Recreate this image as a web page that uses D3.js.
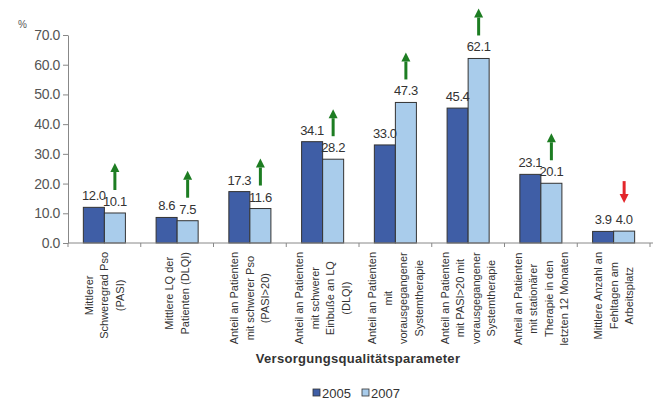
<!DOCTYPE html>
<html><head><meta charset="utf-8">
<script src="https://cdn.jsdelivr.net/npm/d3@7"></script>
<style>
html,body{margin:0;padding:0;background:#fff;}
svg{display:block;font-family:"Liberation Sans",Arial,sans-serif;}
</style></head>
<body>
<svg id="c" width="657" height="401"></svg>
<script>
const categories = [
  ["Mittlerer","Schweregrad Pso","(PASI)"],
  ["Mittlere LQ der","Patienten (DLQI)"],
  ["Anteil an Patienten","mit schwerer Pso","(PASI>20)"],
  ["Anteil an Patienten","mit schwerer","Einbuße an LQ","(DLQI)"],
  ["Anteil an Patienten","mit","vorausgegangener","Systemtherapie"],
  ["Anteil an Patienten","mit PASI>20 mit","vorausgegangener","Systemtherapie"],
  ["Anteil an Patienten","mit stationärer","Therapie in den","letzten 12 Monaten"],
  ["Mittlere Anzahl an","Fehltagen am","Arbeitsplatz"]
];
const seriesNames = ["2005","2007"];
const values2005 = [12.0, 8.6, 17.3, 34.1, 33.0, 45.4, 23.1, 3.9];
const values2007 = [10.1, 7.5, 11.6, 28.2, 47.3, 62.1, 20.1, 4.0];
const trend = ["up","up","up","up","up","up","up","down"];
const yTicks = [0,10,20,30,40,50,60,70];
const axisTitle = "Versorgungsqualitätsparameter";

(function(){
const colors = {"2005":"#3f5ea6","2007":"#a9cceb"};
const svg = d3.select("#c");
const mLeft = 68, mRight = 650, mTop = 35, mBottom = 243;

const ids = categories.map((d,i)=>i);
const x0 = d3.scaleBand().domain(ids).range([mLeft,mRight]).paddingInner(0).paddingOuter(0);
const x1 = d3.scaleBand().domain(seriesNames).range([0,x0.bandwidth()]).paddingInner(0).paddingOuter(0.73);
const y = d3.scaleLinear().domain([0,70]).range([mBottom,mTop]);

// y axis
const yAxis = svg.append("g").attr("transform",`translate(${mLeft},0)`)
  .call(d3.axisLeft(y).tickValues(yTicks).tickFormat(d3.format(".1f")).tickSize(5).tickSizeOuter(0));
yAxis.select(".domain").attr("stroke","#888");
yAxis.selectAll(".tick line").attr("stroke","#888");
yAxis.selectAll(".tick text").attr("font-size",14).attr("fill","#555").attr("x",-8).attr("letter-spacing","-0.4px")
  .attr("font-family","'Liberation Sans',Arial,sans-serif");

svg.append("text").attr("x",18).attr("y",28).attr("font-size",10).attr("fill","#555").text("%");

// bars
const data = ids.map(i=>({i, vals:[{s:"2005",v:values2005[i]},{s:"2007",v:values2007[i]}]}));
const g = svg.selectAll(".grp").data(data).enter().append("g").attr("transform",d=>`translate(${x0(d.i)},0)`);
g.selectAll("rect").data(d=>d.vals).enter().append("rect")
  .attr("x",d=>x1(d.s)).attr("width",x1.bandwidth())
  .attr("y",d=>y(d.v)).attr("height",d=>y(0)-y(d.v))
  .attr("fill",d=>colors[d.s]).attr("stroke","#333").attr("stroke-width",1);
g.selectAll("text.val").data(d=>d.vals).enter().append("text").attr("class","val")
  .attr("x",d=>x1(d.s)+x1.bandwidth()/2).attr("y",d=>y(d.v)-7)
  .attr("text-anchor","middle").attr("font-size",13).attr("letter-spacing","-0.4px").attr("fill","#333")
  .text(d=>d3.format(".1f")(d.v));

// x axis
const xAxis = svg.append("g").attr("transform",`translate(0,${mBottom})`);
xAxis.append("line").attr("x1",mLeft).attr("x2",mRight+3).attr("stroke","#888");
const bounds = ids.map(i=>x0(i)).concat([mRight]);
xAxis.selectAll("line.t").data(bounds).enter().append("line").attr("class","t")
  .attr("x1",d=>d).attr("x2",d=>d).attr("y1",0).attr("y2",4).attr("stroke","#888");

// arrows
const arrowG = svg.append("g");
ids.forEach(i=>{
  const cx = x0(i) + x1("2007") + x1.bandwidth()/2;
  const yt = y(values2007[i]);
  const up = trend[i]==="up";
  const col = up ? "#1d7d22" : "#e3262b";
  let tip, tail;
  if (up){ tail = yt-23; tip = tail-27; } else { tip = yt-28; tail = tip-22; }
  const dir = up ? 1 : -1;
  const headLen = 9, headW = 4.5;
  arrowG.append("line").attr("x1",cx).attr("x2",cx).attr("y1",tail).attr("y2",tip+dir*headLen)
    .attr("stroke",col).attr("stroke-width",3);
  arrowG.append("path").attr("d",`M${cx},${tip} L${cx-headW},${tip+dir*headLen} L${cx+headW},${tip+dir*headLen} Z`).attr("fill",col);
});

// category labels (rotated)
const lineGap = 15.5, labelTop = 252;
ids.forEach(i=>{
  const lines = categories[i];
  const cx = x0(i)+x0.bandwidth()/2;
  const grp = svg.append("g");
  const texts = lines.map((t,k)=>{
    const lx = cx + (k-(lines.length-1)/2)*lineGap + 4;
    return grp.append("text").attr("font-size",11)
      .attr("font-family","'Liberation Sans Narrow','Arial Narrow',sans-serif")
      .attr("text-anchor","middle").attr("fill","#333").text(t).attr("data-x",lx);
  });
  const maxLen = d3.max(texts, t=>t.node().getComputedTextLength());
  const yc = labelTop + maxLen/2;
  texts.forEach(t=>t.attr("transform",`translate(${t.attr("data-x")},${yc}) rotate(-90)`));
});

svg.append("text").attr("x",358).attr("y",363).attr("text-anchor","middle")
  .attr("font-size",13).attr("font-weight","bold").attr("letter-spacing","0.3px").attr("fill","#333").text(axisTitle);

// legend
const leg = svg.append("g");
const legX = [313,362];
seriesNames.forEach((s,k)=>{
  leg.append("rect").attr("x",legX[k]).attr("y",389).attr("width",7).attr("height",7)
    .attr("fill",colors[s]).attr("stroke","#333").attr("stroke-width",0.8);
  leg.append("text").attr("x",legX[k]+9).attr("y",398).attr("font-size",13).attr("fill","#333")
    .attr("font-family","'Liberation Sans Narrow','Arial Narrow',sans-serif").text(s);
});
})();
</script>
</body></html>
